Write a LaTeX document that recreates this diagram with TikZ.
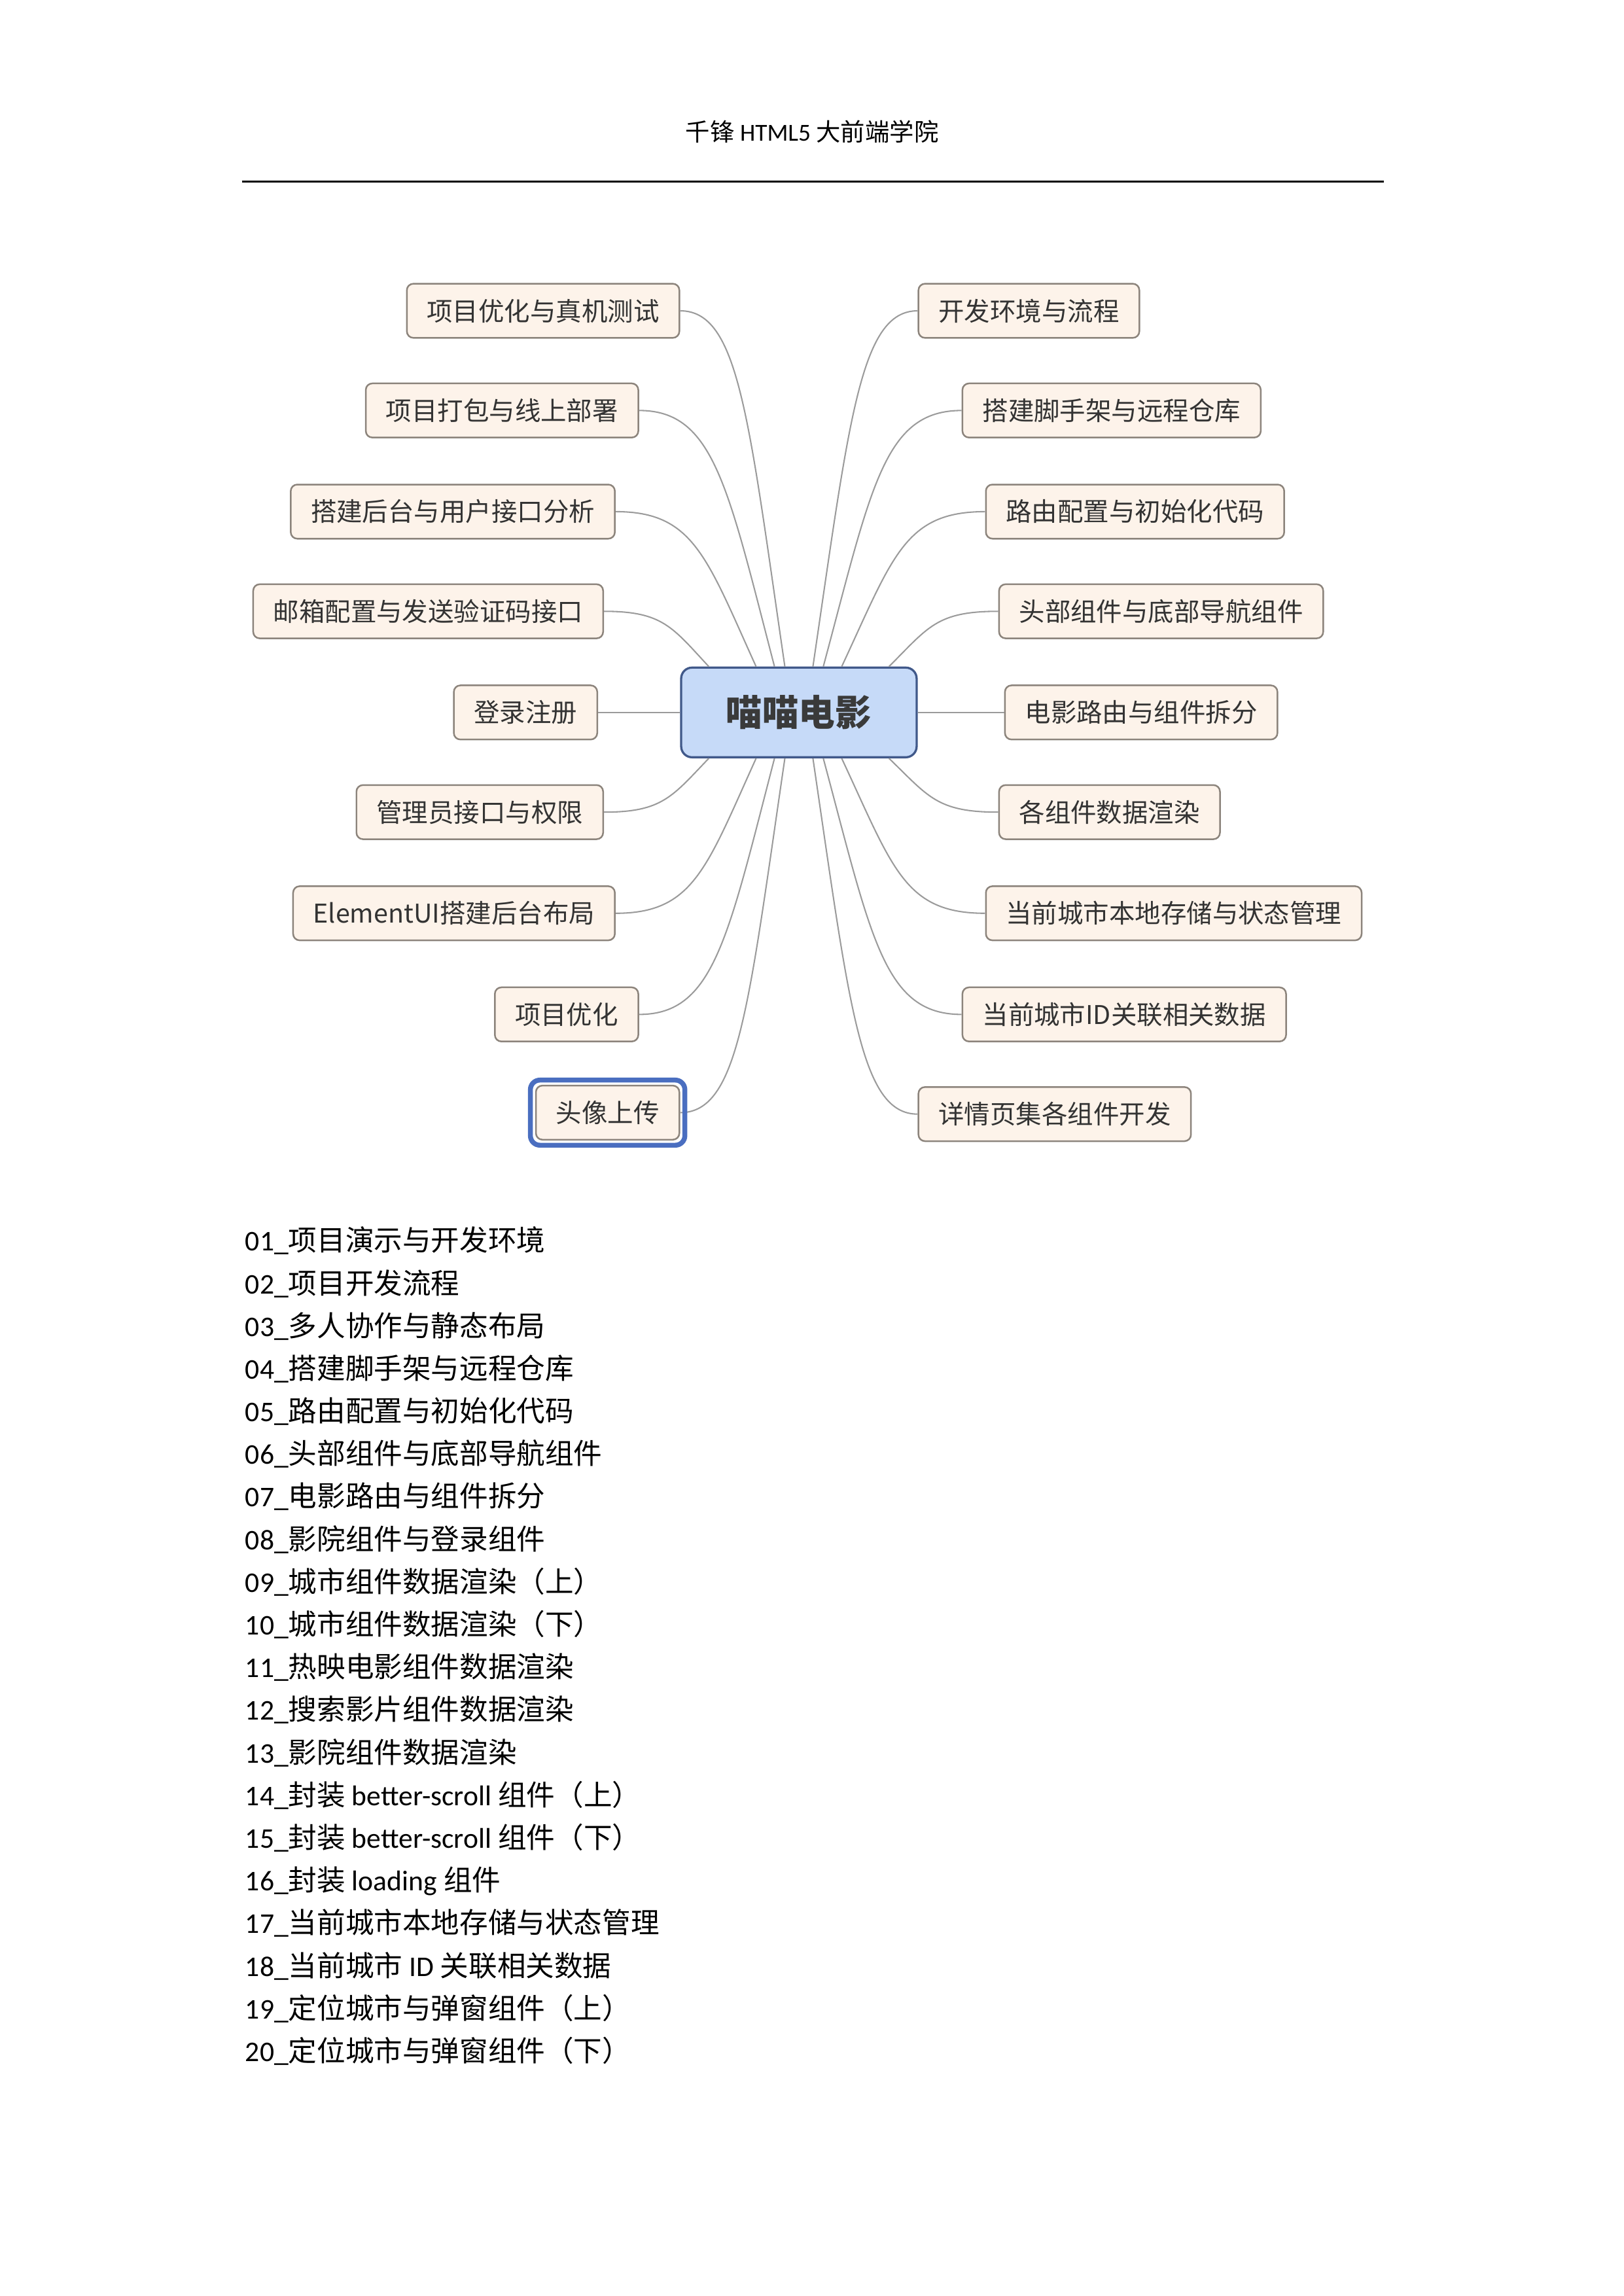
\documentclass[tikz,border=0pt]{standalone}
\usepackage{fontspec}
\setmainfont{Carlito}
\newfontfamily\cjk{Noto Sans CJK SC}
\usetikzlibrary{calc}

\definecolor{topicfill}{HTML}{FDF3EA}
\definecolor{topicline}{HTML}{8C847C}
\definecolor{topictext}{HTML}{333333}
\definecolor{rootfill}{HTML}{C6DAF8}
\definecolor{rootline}{HTML}{41598A}
\definecolor{roottext}{HTML}{3A3A3A}
\definecolor{branchline}{HTML}{9B9B9B}
\definecolor{focusblue}{HTML}{4A6EC0}

\tikzset{
  topic/.style={draw=topicline, fill=topicfill, rounded corners=2.4pt, line width=0.6pt,
    minimum height=7mm, inner xsep=2.6mm, inner ysep=0pt, text=topictext,
    font=\cjk\fontsize{9.5}{11}\selectfont},
  root/.style={draw=rootline, fill=rootfill, rounded corners=4pt, line width=0.8pt,
    minimum width=30.46mm, minimum height=11.6mm, text=roottext,
    font=\cjk\bfseries\fontsize{13.4}{15}\selectfont},
  branch/.style={draw=branchline, line width=0.5pt},
  focus/.style={draw=focusblue, line width=1.8pt, rounded corners=3.5pt},
  lessons/.style={align=left, inner sep=0pt, font=\fontsize{10.5}{15.7}\selectfont},
}

\begin{document}
\begin{tikzpicture}
\useasboundingbox (0,0) rectangle (210mm,297mm);
\begin{scope}[x=0.19039mm, y=0.19039mm, shift={(0,1560)}, scale=0.996, shift={(0,-1560)}]

% page header
\node[font=\fontsize{9}{11}\selectfont] (header) at (554,1470) {{\cjk 千锋} HTML5 {\cjk 大前端学院}};
\draw[line width=0.75pt] (165,1436) -- (944,1436);

% central topic
\node[root] (root) at (545,1074) {喵喵电影};

% left branches
\node[topic, anchor=east] (l1) at (464,1348) {项目优化与真机测试};
\node[topic, anchor=east] (l2) at (436,1280) {项目打包与线上部署};
\node[topic, anchor=east] (l3) at (420,1211) {搭建后台与用户接口分析};
\node[topic, anchor=east] (l4) at (412,1143) {邮箱配置与发送验证码接口};
\node[topic, anchor=east] (l5) at (408,1074) {登录注册};
\node[topic, anchor=east] (l6) at (412,1006) {管理员接口与权限};
\node[topic, anchor=east] (l7) at (420,937) {ElementUI搭建后台布局};
\node[topic, anchor=east] (l8) at (436,868) {项目优化};
\node[topic, anchor=east] (l9) at (464,801) {头像上传};

% right branches
\node[topic, anchor=west] (r1) at (626,1348) {开发环境与流程};
\node[topic, anchor=west] (r2) at (656,1280) {搭建脚手架与远程仓库};
\node[topic, anchor=west] (r3) at (672,1211) {路由配置与初始化代码};
\node[topic, anchor=west] (r4) at (681,1143) {头部组件与底部导航组件};
\node[topic, anchor=west] (r5) at (685,1074) {电影路由与组件拆分};
\node[topic, anchor=west] (r6) at (681,1006) {各组件数据渲染};
\node[topic, anchor=west] (r7) at (672,937) {当前城市本地存储与状态管理};
\node[topic, anchor=west] (r8) at (656,868) {当前城市ID关联相关数据};
\node[topic, anchor=west] (r9) at (626,800) {详情页集各组件开发};

% connectors
\draw[branch] (l1.east) .. controls +(40,0) and +(-25,171) .. (root.107);
\draw[branch] (l2.east) .. controls +(51,0) and +(-32,123) .. (root.118);
\draw[branch] (l3.east) .. controls +(53,0) and +(-34,75) .. (root.133);
\draw[branch] (l4.east) .. controls +(40,0) and +(-25,27) .. (root.153);
\draw[branch] (l5.east) -- (root.west);
\draw[branch] (l6.east) .. controls +(40,0) and +(-25,-26) .. (root.207);
\draw[branch] (l7.east) .. controls +(53,0) and +(-34,-75) .. (root.227);
\draw[branch] (l8.east) .. controls +(51,0) and +(-32,-123) .. (root.242);
\draw[branch] (l9.east) .. controls +(40,0) and +(-25,-170) .. (root.253);

\draw[branch] (r1.west) .. controls +(-39,0) and +(25,170) .. (root.73);
\draw[branch] (r2.west) .. controls +(-53,0) and +(33,123) .. (root.62);
\draw[branch] (r3.west) .. controls +(-55,0) and +(35,75) .. (root.47);
\draw[branch] (r4.west) .. controls +(-42,0) and +(27,27) .. (root.27);
\draw[branch] (r5.west) -- (root.east);
\draw[branch] (r6.west) .. controls +(-42,0) and +(27,-26) .. (root.333);
\draw[branch] (r7.west) .. controls +(-55,0) and +(35,-75) .. (root.313);
\draw[branch] (r8.west) .. controls +(-53,0) and +(33,-123) .. (root.298);
\draw[branch] (r9.west) .. controls +(-39,0) and +(25,-170) .. (root.287);

% selected topic
\draw[focus] ($(l9.south west)+(-3.2,-3.2)$) rectangle ($(l9.north east)+(3.2,3.2)$);

% lesson list
\node[lessons, anchor=north west] (list) at (167,723.5) {%
01\_{\cjk 项目演示与开发环境}\\
02\_{\cjk 项目开发流程}\\
03\_{\cjk 多人协作与静态布局}\\
04\_{\cjk 搭建脚手架与远程仓库}\\
05\_{\cjk 路由配置与初始化代码}\\
06\_{\cjk 头部组件与底部导航组件}\\
07\_{\cjk 电影路由与组件拆分}\\
08\_{\cjk 影院组件与登录组件}\\
09\_{\cjk 城市组件数据渲染（上）}\\
10\_{\cjk 城市组件数据渲染（下）}\\
11\_{\cjk 热映电影组件数据渲染}\\
12\_{\cjk 搜索影片组件数据渲染}\\
13\_{\cjk 影院组件数据渲染}\\
14\_{\cjk 封装} better-scroll {\cjk 组件（上）}\\
15\_{\cjk 封装} better-scroll {\cjk 组件（下）}\\
16\_{\cjk 封装} loading {\cjk 组件}\\
17\_{\cjk 当前城市本地存储与状态管理}\\
18\_{\cjk 当前城市} ID {\cjk 关联相关数据}\\
19\_{\cjk 定位城市与弹窗组件（上）}\\
20\_{\cjk 定位城市与弹窗组件（下）}};
\end{scope}
\end{tikzpicture}
\end{document}
